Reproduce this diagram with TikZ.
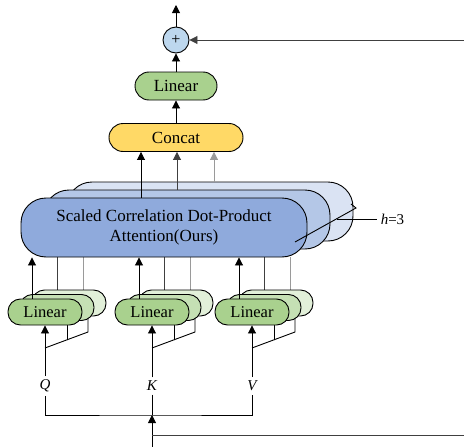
\documentclass[tikz,border=0pt]{standalone}
\usepackage{fontspec}
\setmainfont{Liberation Serif}
\usetikzlibrary{arrows.meta,positioning,backgrounds}
\definecolor{attA}{HTML}{8FAADC}
\definecolor{attB}{HTML}{B4C7E7}
\definecolor{attC}{HTML}{DAE3F3}
\definecolor{linA}{HTML}{A9D18E}
\definecolor{linB}{HTML}{C5E0B4}
\definecolor{linC}{HTML}{E2F0D9}
\definecolor{catfill}{HTML}{FFD966}
\definecolor{addfill}{HTML}{BDD7EE}
\definecolor{midgray}{HTML}{404040}
\definecolor{ligray}{HTML}{9A9A9A}
\tikzset{
	>={Triangle[length=8pt,width=8pt]},
	every path/.style={line width=0.9pt},
	attbox/.style={draw, rounded corners=25pt, minimum width=286pt, minimum height=59pt, inner sep=0pt},
	linbox/.style={draw, rounded corners=12.5pt, minimum width=74pt, minimum height=26pt, inner sep=0pt, font=\fontsize{16.5}{18}\selectfont},
	topbox/.style={draw, rounded corners=14pt, minimum height=28pt, inner sep=0pt, font=\fontsize{17}{18}\selectfont},
}
\begin{document}
\begin{tikzpicture}[x=1pt,y=-1pt]
	\useasboundingbox (0,0) rectangle (464,447);

	% attention heads
	\node[attbox, fill=attC] (att3) at (210,211.5) {};
	\node[attbox, fill=attB] (att2) at (187,219.5) {};
	\node[attbox, fill=attA, align=center, font=\fontsize{17}{20}\selectfont] (att1) at (164,227.5)
		{Scaled Correlation Dot-Product\\Attention(Ours)};

	\node[topbox, fill=catfill, minimum width=134pt] (concat) at (176,137.5) {Concat};
	\node[topbox, fill=linA, minimum width=82pt] (lin) at (176,86) {Linear};
	\node[draw, circle, fill=addfill, minimum size=26pt, inner sep=0pt, font=\fontsize{16}{16}\selectfont] (add) at (176,40) {+};
	\coordinate (out) at (176,5);
	\coordinate (res) at (464,40);

	\draw[->] (att1.north -| 141,0) -- (concat.south -| 141,0);
	\draw[->, midgray] (att2.north -| 177,0) -- (concat.south -| 177,0);
	\draw[->, ligray] (att3.north -| 214,0) -- (concat.south -| 214,0);
	\draw[->] (concat) -- (lin);
	\draw[->] (lin) -- (add);
	\draw[->] (add) -- (out);
	\draw[->, midgray] (res) -- (add);

	% linear projections for Q, K, V
	\foreach \n/\c in {q/45,k/152,v/252}{
		\node[linbox, fill=linC] (l\n3) at (\c+24,303) {};
		\node[linbox, fill=linB] (l\n2) at (\c+12,307.5) {};
		\node[linbox, fill=linA] (l\n1) at (\c,312) {Linear};
		\node[font=\fontsize{15}{15}\selectfont\itshape] (\n) at (\c,386) {\MakeUppercase{\n}};
		\draw[->] (\n.north) -- (l\n1.south);
		\draw[->] (l\n1.north -| \c-13,0) -- (att1.south -| \c-13,0);
		\begin{scope}[on background layer]
			\draw[midgray] (l\n2.north -| \c+12,0) -- (att1.south -| \c+12,0);
			\draw[ligray] (l\n3.north -| \c+38,0) -- (att1.south -| \c+38,0);
			\draw (\c,348) -- (\c+43,332) -- (l\n3.south -| \c+43,0);
			\draw (\c+22,340.3) -- (l\n1.south -| \c+22,0);
		\end{scope}
	}

	% inputs
	\coordinate (in) at (152,447);
	\coordinate (split) at (152,415);
	\coordinate (skip) at (464,435);
	\draw (q.south) |- (split) -| (v.south);
	\draw (k.south) -- (split);
	\draw[->] (in) -- (split);
	\draw[midgray] (skip) -- (skip -| in);

	% number of heads
	\node[anchor=west, font=\fontsize{15}{15}\selectfont] (heads) at (377,219) {\textit{h}=3};
	\draw (295,242) -- (356,208) -- (351,204);
	\draw (337,219) -- (heads.west);
\end{tikzpicture}
\end{document}
